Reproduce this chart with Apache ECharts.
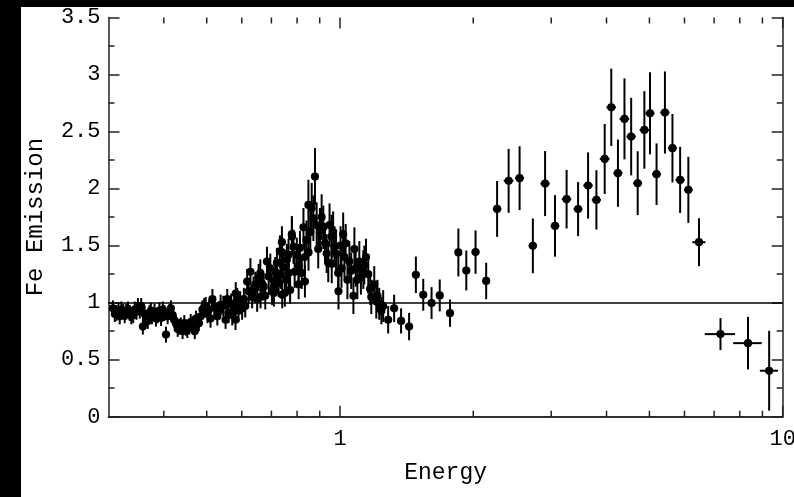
<!DOCTYPE html>
<html>
<head>
<meta charset="utf-8">
<script src="https://cdn.jsdelivr.net/npm/echarts@6/dist/echarts.min.js"></script>
<style>
  html, body { margin: 0; padding: 0; background: #000; }
  #chart { position: absolute; left: 21px; top: 7px; width: 773px; height: 490px; background: #fff; }
</style>
</head>
<body>
<div id="chart"></div>
<script>
// 数据部分 (energy in keV, Fe emission ratio, 1-sigma errors)
const energy = [
  0.307, 0.3125, 0.316, 0.3207, 0.3264, 0.329, 0.332, 0.3377, 0.3437, 0.3496,
  0.3556, 0.3587, 0.3648, 0.3714, 0.376, 0.3811, 0.3877, 0.3943, 0.3978, 0.4046,
  0.4118, 0.415, 0.4188, 0.426, 0.4335, 0.441, 0.4486, 0.4566, 0.4644, 0.4699,
  0.4766, 0.4848, 0.489, 0.4933, 0.4974, 0.5062, 0.515, 0.5284, 0.5375, 0.5515,
  0.5564, 0.576, 0.5808, 0.5815, 0.5859, 0.6012, 0.6066, 0.6171, 0.6277, 0.6332,
  0.6439, 0.6607, 0.6615, 0.6724, 0.684, 0.69, 0.7019, 0.7082, 0.709, 0.714,
  0.7204, 0.721, 0.7268, 0.7317, 0.7393, 0.74, 0.7405, 0.7508, 0.7586, 0.7652,
  0.766, 0.7716, 0.7784, 0.779, 0.7852, 0.7989, 0.8059, 0.8065, 0.8197, 0.827,
  0.8326, 0.8333, 0.8485, 0.849, 0.8632, 0.8707, 0.878, 0.8858, 0.901, 0.9169,
  0.9408, 0.9471, 0.957, 0.958, 0.972, 0.9908, 0.9922, 1.0078, 1.0167, 1.0235,
  1.0394, 1.0503, 1.0723, 1.0778, 1.0946, 1.1058, 1.129, 1.1349, 1.1584, 1.1769,
  1.1951, 1.2077, 1.2263, 1.2519, 1.2848, 1.3254, 1.374, 1.4325, 1.484, 1.542,
  1.61, 1.68, 1.772, 1.851, 1.929, 2.024, 2.139, 2.264, 2.404, 2.545,
  2.727, 2.906, 3.06, 3.25, 3.45, 3.634, 3.795, 3.962, 4.10, 4.245,
  4.391, 4.547, 4.704, 4.87, 5.015, 5.189, 5.42, 5.636, 5.866, 6.122,
  6.47, 7.236, 8.348, 9.32
];
const feEmission = [
  0.95, 0.91, 0.93, 0.94, 0.89, 0.92, 0.94, 0.88, 0.94, 0.97,
  0.97, 0.79, 0.865, 0.91, 0.88, 0.92, 0.89, 0.865, 0.94, 0.72,
  0.92, 0.95, 0.89, 0.82, 0.79, 0.75, 0.78, 0.79, 0.81, 0.75,
  0.835, 0.88, 0.94, 0.96, 0.97, 0.94, 1.03, 0.88, 0.98, 0.85,
  1.03, 0.95, 0.85, 1.08, 1.03, 0.95, 1.03, 1.185, 1.27, 1.05,
  1.16, 1.26, 1.05, 1.14, 1.36, 1.23, 1.10, 1.14, 1.085, 1.27,
  1.35, 1.20, 1.17, 1.45, 1.53, 1.44, 1.07, 1.085, 1.375, 1.42,
  1.26, 1.11, 1.60, 1.58, 1.49, 1.42, 1.32, 1.16, 1.26, 1.66,
  1.40, 1.185, 1.857, 1.44, 1.83, 1.74, 2.105, 1.68, 1.64, 1.66,
  1.35, 1.68, 1.58, 1.34, 1.49, 1.26, 1.10, 1.30, 1.60, 1.40,
  1.20, 1.36, 1.06, 1.47, 1.20, 1.36, 1.29, 1.33, 1.25, 1.05,
  1.16, 1.01, 0.99, 0.97, 0.85, 0.95, 0.84, 0.79, 1.244, 1.069,
  0.996, 1.063, 0.908, 1.44, 1.282, 1.443, 1.19, 1.822, 2.068, 2.091,
  1.498, 2.044, 1.673, 1.907, 1.82, 2.027, 1.901, 2.26, 2.713, 2.135,
  2.611, 2.456, 2.047, 2.514, 2.66, 2.126, 2.667, 2.354, 2.076, 1.989,
  1.53, 0.724, 0.645, 0.403
];
const feErr = [
  0.07, 0.07, 0.07, 0.07, 0.07, 0.07, 0.07, 0.07, 0.07, 0.07,
  0.07, 0.07, 0.07, 0.07, 0.07, 0.07, 0.07, 0.07, 0.07, 0.07,
  0.07, 0.07, 0.07, 0.07, 0.07, 0.07, 0.07, 0.07, 0.07, 0.07,
  0.07, 0.08, 0.08, 0.08, 0.08, 0.08, 0.09, 0.08, 0.09, 0.08,
  0.09, 0.09, 0.09, 0.10, 0.10, 0.10, 0.10, 0.11, 0.12, 0.10,
  0.11, 0.12, 0.10, 0.12, 0.13, 0.12, 0.12, 0.12, 0.12, 0.13,
  0.13, 0.12, 0.12, 0.14, 0.14, 0.14, 0.12, 0.12, 0.14, 0.14,
  0.13, 0.12, 0.16, 0.16, 0.15, 0.15, 0.14, 0.13, 0.14, 0.17,
  0.15, 0.14, 0.22, 0.16, 0.22, 0.20, 0.25, 0.20, 0.19, 0.19,
  0.17, 0.19, 0.19, 0.17, 0.18, 0.17, 0.16, 0.17, 0.19, 0.18,
  0.17, 0.18, 0.16, 0.19, 0.17, 0.18, 0.17, 0.17, 0.17, 0.15,
  0.16, 0.15, 0.14, 0.14, 0.12, 0.12, 0.11, 0.12, 0.16, 0.14,
  0.14, 0.14, 0.12, 0.21, 0.175, 0.19, 0.16, 0.245, 0.28, 0.28,
  0.24, 0.285, 0.27, 0.257, 0.237, 0.29, 0.26, 0.307, 0.339, 0.295,
  0.355, 0.34, 0.28, 0.34, 0.36, 0.27, 0.36, 0.30, 0.29, 0.29,
  0.21, 0.14, 0.23, 0.35
];
const energyErr = [
  0.002, 0.002, 0.002, 0.002, 0.002, 0.002, 0.002, 0.002, 0.002, 0.002,
  0.002, 0.002, 0.002, 0.002, 0.002, 0.002, 0.002, 0.002, 0.002, 0.002,
  0.003, 0.003, 0.003, 0.003, 0.003, 0.003, 0.003, 0.003, 0.003, 0.003,
  0.003, 0.003, 0.003, 0.003, 0.003, 0.003, 0.003, 0.003, 0.003, 0.003,
  0.003, 0.003, 0.003, 0.003, 0.003, 0.004, 0.004, 0.004, 0.004, 0.004,
  0.004, 0.004, 0.004, 0.004, 0.004, 0.004, 0.004, 0.004, 0.004, 0.004,
  0.004, 0.004, 0.004, 0.004, 0.004, 0.004, 0.004, 0.004, 0.005, 0.005,
  0.005, 0.005, 0.005, 0.005, 0.005, 0.005, 0.005, 0.005, 0.005, 0.005,
  0.005, 0.005, 0.005, 0.005, 0.005, 0.005, 0.005, 0.005, 0.006, 0.006,
  0.006, 0.006, 0.006, 0.006, 0.006, 0.006, 0.006, 0.006, 0.006, 0.006,
  0.007, 0.007, 0.007, 0.007, 0.007, 0.007, 0.008, 0.008, 0.008, 0.008,
  0.008, 0.008, 0.008, 0.01, 0.01, 0.01, 0.02, 0.02, 0.02, 0.02,
  0.02, 0.03, 0.03, 0.03, 0.03, 0.04, 0.04, 0.05, 0.06, 0.06,
  0.06, 0.07, 0.07, 0.08, 0.08, 0.09, 0.09, 0.10, 0.10, 0.10,
  0.11, 0.11, 0.11, 0.12, 0.12, 0.12, 0.13, 0.13, 0.14, 0.14,
  0.22, 0.57, 0.62, 0.44
];
// 第二组软X射线数据 (与上面重叠的密集区域)
const softEnergy = [
  0.310, 0.318, 0.324, 0.335, 0.341, 0.347, 0.353, 0.362, 0.368, 0.374,
  0.384, 0.391, 0.401, 0.408, 0.422, 0.430, 0.437, 0.445, 0.452, 0.460,
  0.467, 0.473, 0.480, 0.502, 0.510, 0.520, 0.533, 0.545, 0.560, 0.568,
  0.571, 0.590, 0.595, 0.611, 0.622, 0.638, 0.650, 0.655, 0.666, 0.678,
  0.696, 0.735, 0.745, 0.756, 0.790, 0.812, 0.840, 0.857, 0.893, 0.909,
  0.925, 0.933, 0.965, 0.980, 1.003, 1.030, 1.060, 1.085, 1.115, 1.145,
  1.170, 1.215, 1.240
];
const softEmission = [
  0.90, 0.88, 0.92, 0.91, 0.89, 0.92, 0.93, 0.90, 0.84, 0.93,
  0.86, 0.93, 0.91, 0.88, 0.85, 0.77, 0.80, 0.82, 0.76, 0.83,
  0.79, 0.86, 0.82, 0.90, 0.86, 0.96, 0.93, 0.97, 0.91, 0.99,
  0.89, 0.93, 1.00, 0.97, 1.10, 1.12, 1.03, 1.22, 1.17, 1.06,
  1.30, 1.25, 1.31, 1.20, 1.27, 1.48, 1.55, 1.62, 1.47, 1.75,
  1.52, 1.43, 1.62, 1.43, 1.50, 1.52, 1.28, 1.30, 1.22, 1.40,
  1.12, 1.06, 0.93
];
const softErr = [
  0.07, 0.07, 0.07, 0.07, 0.07, 0.07, 0.07, 0.07, 0.07, 0.07,
  0.07, 0.07, 0.07, 0.07, 0.07, 0.07, 0.07, 0.07, 0.07, 0.07,
  0.07, 0.07, 0.07, 0.08, 0.08, 0.08, 0.08, 0.09, 0.09, 0.09,
  0.09, 0.10, 0.10, 0.10, 0.11, 0.11, 0.11, 0.12, 0.12, 0.12,
  0.13, 0.13, 0.14, 0.13, 0.14, 0.15, 0.17, 0.18, 0.17, 0.20,
  0.18, 0.17, 0.18, 0.17, 0.17, 0.17, 0.16, 0.16, 0.15, 0.16,
  0.14, 0.14, 0.12
];
// 坐标轴刻度
const xMajorTicks = [1, 10];
const xMinorTicks = [0.4, 0.5, 0.6, 0.7, 0.8, 0.9, 2, 3, 4, 5, 6, 7, 8, 9];
const yTicks = [0, 0.5, 1, 1.5, 2, 2.5, 3, 3.5];

initChart();

function initChart() {
  let chart = echarts.init(document.getElementById('chart'));
  let font = 'Liberation Mono';

  let points = [];
  for (let i = 0; i < energy.length; i++) {
    points.push([energy[i], feEmission[i], feErr[i], energyErr[i]]);
  }
  for (let i = 0; i < softEnergy.length; i++) {
    points.push([softEnergy[i], softEmission[i], softErr[i], 0.003]);
  }
  let ticks = [];
  xMajorTicks.forEach(function (v) { ticks.push([v, 11]); });
  xMinorTicks.forEach(function (v) { ticks.push([v, 6]); });

  // 误差棒 + 圆点
  function renderPoint(params, api) {
    let e = api.value(0), v = api.value(1), dy = api.value(2), dx = api.value(3);
    let top = api.coord([e, v + dy]);
    let bot = api.coord([e, v - dy]);
    let lft = api.coord([e - dx, v]);
    let rgt = api.coord([e + dx, v]);
    let c = api.coord([e, v]);
    let st = { stroke: '#000', lineWidth: 2 };
    return {
      type: 'group',
      children: [
        { type: 'line', shape: { x1: top[0], y1: top[1], x2: bot[0], y2: bot[1] }, style: st },
        { type: 'line', shape: { x1: lft[0], y1: lft[1], x2: rgt[0], y2: rgt[1] }, style: st },
        { type: 'circle', shape: { cx: c[0], cy: c[1], r: 4.1 }, style: { fill: '#000' } }
      ]
    };
  }

  // 对数轴刻度线 (上下两边)
  function renderTick(params, api) {
    let v = api.value(0), len = api.value(1);
    let b = api.coord([v, yTicks[0]]);
    let t = api.coord([v, yTicks[yTicks.length - 1]]);
    let st = { stroke: '#222', lineWidth: 1.5 };
    return {
      type: 'group',
      children: [
        { type: 'line', shape: { x1: b[0], y1: b[1], x2: b[0], y2: b[1] - len }, style: st },
        { type: 'line', shape: { x1: t[0], y1: t[1], x2: t[0], y2: t[1] + len }, style: st }
      ]
    };
  }

  let yAxisBase = {
    type: 'value',
    min: yTicks[0],
    max: yTicks[yTicks.length - 1],
    interval: 0.5,
    splitLine: { show: false },
    axisLine: { show: true, lineStyle: { color: '#222', width: 1.5 } },
    axisTick: { show: true, inside: true, length: 11, lineStyle: { color: '#222', width: 1.5 } },
    minorTick: { show: true, splitNumber: 2, length: 6, lineStyle: { color: '#222', width: 1.5 } }
  };

  let option = {
    backgroundColor: '#fff',
    animation: false,
    grid: { left: 87.5, top: 10.5, right: 11.3, bottom: 80.3, containLabel: false, outerBoundsMode: 'none' },
    xAxis: [{
      type: 'log',
      logBase: 10,
      min: 0.3,
      max: 10,
      name: 'Energy',
      nameLocation: 'middle',
      nameGap: 45,
      nameTextStyle: { fontFamily: font, fontSize: 23, color: '#000' },
      splitLine: { show: false },
      axisLine: { show: true, lineStyle: { color: '#222', width: 1.5 } },
      axisTick: { show: false },
      axisLabel: {
        fontFamily: font, fontSize: 22, color: '#000', margin: 11,
        showMinLabel: false,
        formatter: function (v) {
          return xMajorTicks.indexOf(Math.round(v * 1000) / 1000) >= 0 ? String(Math.round(v)) : '';
        }
      }
    }, {
      type: 'log',
      logBase: 10,
      min: 0.3,
      max: 10,
      position: 'top',
      splitLine: { show: false },
      axisLine: { show: true, lineStyle: { color: '#222', width: 1.5 } },
      axisTick: { show: false },
      axisLabel: { show: false }
    }],
    yAxis: [Object.assign({}, yAxisBase, {
      name: 'Fe Emission',
      nameLocation: 'middle',
      nameRotate: 90,
      nameGap: 61,
      nameTextStyle: { fontFamily: font, fontSize: 24, color: '#000' },
      axisLabel: { fontFamily: font, fontSize: 22, color: '#000', margin: 8 }
    }), Object.assign({}, yAxisBase, {
      position: 'right',
      axisLabel: { show: false }
    })],
    series: [{
      type: 'custom',
      renderItem: renderTick,
      data: ticks,
      silent: true,
      encode: { x: 0, y: -1 }
    }, {
      type: 'custom',
      renderItem: renderPoint,
      data: points,
      encode: { x: 0, y: 1 },
      markLine: {
        silent: true,
        symbol: 'none',
        label: { show: false },
        lineStyle: { color: '#000', width: 1.5, type: 'solid' },
        data: [{ yAxis: 1 }]
      }
    }]
  };

  chart.setOption(option);
}
</script>
</body>
</html>
